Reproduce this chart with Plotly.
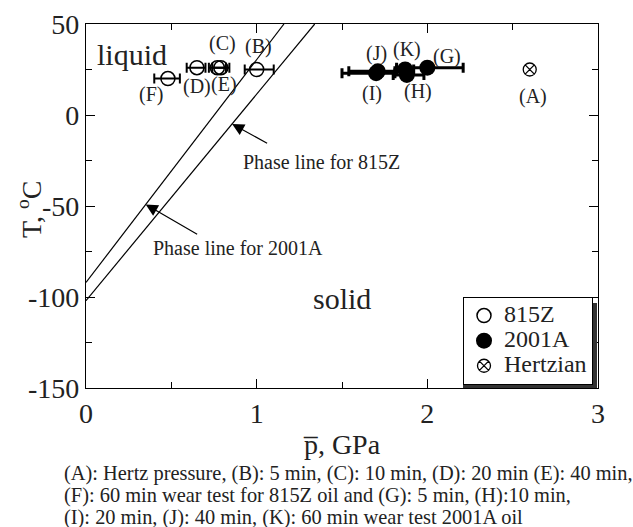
import plotly.graph_objects as go

FONT = "Liberation Serif, Times New Roman, serif"

# 815Z (open circles)
z_labels = ["(B)", "(C)", "(D)", "(E)", "(F)"]
z_p = [1.00, 0.79, 0.65, 0.77, 0.48]
z_T = [25, 26, 26, 26, 20]
z_err_plus = [0.10, 0.05, 0.05, 0.05, 0.07]
z_err_minus = [0.07, 0.05, 0.06, 0.05, 0.08]

# 2001A (filled circles)
a_labels = ["(G)", "(H)", "(I)", "(J)", "(K)"]
a_p = [2.00, 1.88, 1.70, 1.71, 1.87]
a_T = [26, 22, 23, 24, 25]
a_err_plus = [0.21, 0.10, 0.11, 0.10, 0.05]
a_err_minus = [0.18, 0.08, 0.20, 0.17, 0.05]

# Hertzian
h_labels = ["(A)"]
h_p = [2.60]
h_T = [25]

# phase lines (end points)
line815_p = [0.0, 1.34]
line815_T = [-102, 50]
line2001_p = [0.0, 1.16]
line2001_T = [-92, 50]

# axis ticks
x_ticks = [0, 1, 2, 3]
x_ticktext = ["0", "1", "2", "3"]
y_ticks = [-150, -100, -50, 0, 50]
y_ticktext = ["-150", "-100", "-50", "0", "50"]

caption_lines = [
    "(A): Hertz pressure, (B): 5 min, (C): 10 min, (D): 20 min (E): 40 min,",
    "(F): 60 min wear test for 815Z oil and (G): 5 min, (H):10 min,",
    "(I): 20 min, (J): 40 min, (K): 60 min wear test 2001A oil",
]

# label offsets in px (label relative to its point)
label_shift = {
    "(A)": (3, -27), "(B)": (2, 23), "(C)": (2, 24), "(D)": (0, -19),
    "(E)": (7, -17), "(F)": (-17, -16), "(G)": (20, 11), "(H)": (11, -17),
    "(I)": (-4, -20), "(J)": (-1, 18), "(K)": (2, 20),
}

# layout geometry (px)
W, H = 633, 527
ML, MR, MT, MB = 86, 35, 24, 139
PW, PH = W - ML - MR, H - MT - MB

def paper_x(px):
    return (px - ML) / PW

def paper_y(py):
    return (H - MB - py) / PH

LEG = dict(left=460, right=593, top=300, bottom=385)

fig = go.Figure()

for px_, T_ in [(line815_p, line815_T), (line2001_p, line2001_T)]:
    fig.add_trace(go.Scatter(x=px_, y=T_, mode="lines", line=dict(color="black", width=1.2),
                             showlegend=False, hoverinfo="skip"))

legend_span = "<span style='font-size:24px'>{}</span>"

fig.add_trace(go.Scatter(
    x=z_p, y=z_T, mode="markers", name=legend_span.format("815Z"),
    marker=dict(symbol="circle-open", size=14, color="black", line=dict(width=1.5)),
    error_x=dict(type="data", symmetric=False, array=z_err_plus, arrayminus=z_err_minus,
                 color="black", thickness=2, width=5),
))
fig.add_trace(go.Scatter(
    x=a_p, y=a_T, mode="markers", name=legend_span.format("2001A"),
    marker=dict(symbol="circle", size=16, color="black"),
    error_x=dict(type="data", symmetric=False, array=a_err_plus, arrayminus=a_err_minus,
                 color="black", thickness=3, width=5),
))
fig.add_trace(go.Scatter(
    x=h_p, y=h_T, mode="markers", name=legend_span.format("Hertzian"),
    marker=dict(symbol="circle-x-open", size=13, color="black", line=dict(width=1.3)),
))

ann = []
for labs, xs, ys in [(z_labels, z_p, z_T), (a_labels, a_p, a_T), (h_labels, h_p, h_T)]:
    for l, xv, yv in zip(labs, xs, ys):
        dx, dy = label_shift[l]
        ann.append(dict(x=xv, y=yv, text=l, showarrow=False, xshift=dx, yshift=dy,
                        font=dict(family=FONT, size=20, color="#222")))

def on_line(lp, lT, p):
    return lT[0] + (lT[1] - lT[0]) / (lp[1] - lp[0]) * (p - lp[0])

# arrows to phase lines
ann.append(dict(x=0.856, y=on_line(line815_p, line815_T, 0.856), ax=1.07, ay=-16,
                axref="x", ayref="y", text="", showarrow=True, arrowhead=2, arrowsize=2,
                arrowwidth=1.2, arrowcolor="black"))
ann.append(dict(x=0.35, y=on_line(line2001_p, line2001_T, 0.35), ax=0.66, ay=-66,
                axref="x", ayref="y", text="", showarrow=True, arrowhead=2, arrowsize=2,
                arrowwidth=1.2, arrowcolor="black"))
ann.append(dict(x=0.91, y=-26, text="Phase line for 815Z", showarrow=False, xanchor="left",
                font=dict(family=FONT, size=20, color="#222")))
ann.append(dict(x=0.38, y=-73, text="Phase line for 2001A", showarrow=False, xanchor="left",
                font=dict(family=FONT, size=20, color="#222")))
ann.append(dict(x=0.05, y=33, text="liquid", showarrow=False, xanchor="left",
                font=dict(family=FONT, size=30, color="#222")))
ann.append(dict(x=1.5, y=-101, text="solid", showarrow=False,
                font=dict(family=FONT, size=30, color="#222")))
# y axis title (placed close to the tick labels, as in the original)
ann.append(dict(xref="paper", yref="paper", x=paper_x(29), y=paper_y(209), text="T, <sup>o</sup>C",
                textangle=-90, showarrow=False, xanchor="center", yanchor="middle",
                font=dict(family=FONT, size=28, color="#222")))
for i, line in enumerate(caption_lines):
    ann.append(dict(xref="paper", yref="paper", x=paper_x(62), y=paper_y(473 + 22 * i),
                    xanchor="left", yanchor="middle", align="left", showarrow=False,
                    text=line, font=dict(family=FONT, size=20.4, color="#222")))

shapes = [dict(type="rect", xref="paper", yref="paper",
               x0=paper_x(LEG["left"] + 3), x1=paper_x(LEG["right"] + 4),
               y0=paper_y(LEG["bottom"] + 3), y1=paper_y(LEG["top"] + 3),
               fillcolor="#333", line=dict(width=0), layer="above")]

fig.update_layout(
    width=W, height=H,
    margin=dict(l=ML, r=MR, t=MT, b=MB),
    paper_bgcolor="white", plot_bgcolor="white",
    font=dict(family=FONT, size=28, color="#222"),
    annotations=ann, shapes=shapes,
    legend=dict(x=paper_x(LEG["right"]), y=paper_y(LEG["bottom"]), xanchor="right", yanchor="bottom",
                bgcolor="white", bordercolor="black", borderwidth=1,
                font=dict(family=FONT, size=17, color="#222"),
                itemsizing="trace", tracegroupgap=0, itemwidth=30),
    xaxis=dict(range=[0, 3], tickvals=x_ticks, ticktext=x_ticktext, ticks="inside", ticklen=9,
               tickwidth=1, tickcolor="black", showline=True, linecolor="black", linewidth=1.2,
               mirror="allticks", showgrid=False, zeroline=False, automargin=False,
               minor=dict(dtick=0.5, ticks="inside", ticklen=6, tickcolor="black", showgrid=False),
               title=dict(text="p\u0305, GPa", standoff=6, font=dict(size=28)),
               tickfont=dict(size=28)),
    yaxis=dict(range=[-150, 50], tickvals=y_ticks, ticktext=y_ticktext, ticks="inside", ticklen=9,
               tickwidth=1, tickcolor="black", showline=True, linecolor="black", linewidth=1.2,
               mirror="allticks", showgrid=False, zeroline=False, automargin=False,
               minor=dict(dtick=25, ticks="inside", ticklen=6, tickcolor="black", showgrid=False),
               tickfont=dict(size=28)),
)

fig.write_html("out.html")
